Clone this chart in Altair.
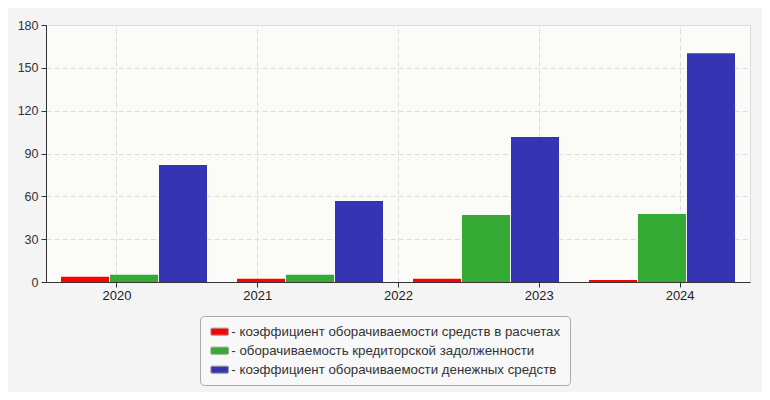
import altair as alt
import pandas as pd

# Axis labels (five years shown under the axis)
years = ["2020", "2021", "2022", "2023", "2024"]
# Bar groups as drawn (four groups of bars)
bar_groups = ["1", "2", "3", "4"]
series = [
    "коэффициент оборачиваемости средств в расчетах",
    "оборачиваемость кредиторской задолженности",
    "коэффициент оборачиваемости денежных средств",
]
red_vals = [3.7, 2.3, 2.3, 1.4]
green_vals = [5.1, 5.1, 46.9, 47.6]
blue_vals = [81.9, 56.7, 101.5, 160.3]
colors = ["#ff0000", "#35aa35", "#3535b4"]
y_ticks = [0, 30, 60, 90, 120, 150, 180]

rows = []
for s, vals in zip(series, [red_vals, green_vals, blue_vals]):
    for g, v in zip(bar_groups, vals):
        rows.append({"grp": g, "series": s, "value": v})
bars_df = pd.DataFrame(rows)
years_df = pd.DataFrame({"year": years})

FONT = "Liberation Sans"
ROUND_RECT = ("M-1.55,-0.7H1.55Q1.75,-0.7 1.75,-0.5V0.5Q1.75,0.7 1.55,0.7H-1.55"
              "Q-1.75,0.7 -1.75,0.5V-0.5Q-1.75,-0.7 -1.55,-0.7Z")

bars = alt.Chart(bars_df).mark_bar().encode(
    x=alt.X("grp:N", scale=alt.Scale(domain=bar_groups, paddingInner=30 / 176, paddingOuter=15 / 176), axis=None),
    xOffset=alt.XOffset("series:N", scale=alt.Scale(domain=series, paddingInner=1 / 49, paddingOuter=0)),
    y=alt.Y(
        "value:Q",
        scale=alt.Scale(domain=[0, 180], nice=False, zero=True),
        axis=alt.Axis(
            values=y_ticks, title=None, grid=True, gridDash=[5, 3], gridColor="#dddddd",
            domainColor="#333333", tickColor="#333333", tickSize=5, labelPadding=3,
            labelColor="#333333", labelFont=FONT, labelFontSize=12.5,
        ),
    ),
    color=alt.Color(
        "series:N",
        scale=alt.Scale(domain=series, range=colors),
        legend=alt.Legend(
            title=None, orient="none", legendX=154, legendY=291,
            direction="vertical", labelExpr="'- ' + datum.label",
            labelFont=FONT, labelFontSize=13.3, labelColor="#333333", labelLimit=500,
            symbolType=ROUND_RECT, symbolSize=100, symbolOffset=4,
            symbolStrokeColor="#999999", symbolStrokeWidth=1,
            labelOffset=5, rowPadding=5, padding=9,
            fillColor="#f8f8f8", strokeColor="#aaaaaa", cornerRadius=4,
        ),
    ),
)

axis_layer = alt.Chart(years_df).mark_point(opacity=0).encode(
    x=alt.X(
        "year:N",
        scale=alt.Scale(type="point", domain=years, padding=0.5),
        axis=alt.Axis(
            title=None, grid=True, gridDash=[5, 3], gridColor="#dddddd",
            domainColor="#333333", tickColor="#333333", tickSize=5, labelPadding=2,
            labelColor="#222222", labelFont=FONT, labelFontSize=13, labelAngle=0,
        ),
    ),
    y=alt.value(0),
)

chart = (
    alt.layer(axis_layer, bars)
    .resolve_scale(x="independent")
    .properties(
        width=704, height=257,
        background="#f4f4f4",
        autosize=alt.AutoSizeParams(type="none"),
        padding={"left": 38, "top": 17, "right": 12, "bottom": 110},
    )
    .configure_view(fill="#fbfbf8", stroke="#dddddd")
)

chart.save("out.html", embed_options={"renderer": "svg", "actions": False})
